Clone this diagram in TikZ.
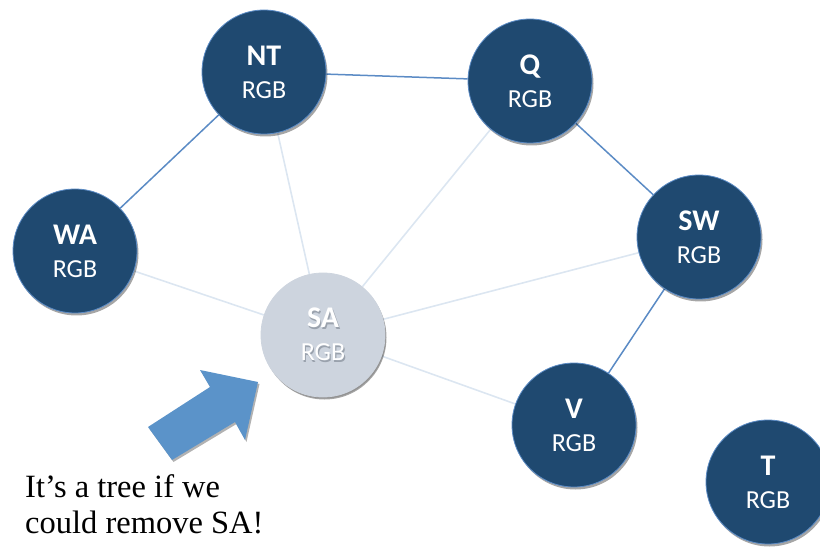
\documentclass[tikz,border=0pt]{standalone}
\usepackage{fontspec}
\setmainfont{Liberation Serif}
\newfontfamily\labelfont{Carlito}
\usetikzlibrary{shadows,backgrounds}

\definecolor{statefill}{HTML}{1F4970}
\definecolor{stateedge}{HTML}{5B8BC5}
\definecolor{faintedge}{HTML}{DCE6F1}
\definecolor{removedfill}{HTML}{CDD4DE}
\definecolor{arrowblue}{HTML}{5B93C9}
\definecolor{textshade}{HTML}{9AA2AD}

% region name in bold over its domain
\newcommand\statetext[1]{{\fontsize{30}{33}\selectfont\bfseries #1}\\RGB}
% white text with a soft grey shadow below it
\newcommand\shadowed[1]{%
  \makebox[0pt]{\hspace{2.4pt}\raisebox{-1.8pt}{\textcolor{textshade}{#1}}}%
  \makebox[0pt]{#1}}
\newcommand\shadedstatetext[1]{%
  {\fontsize{30}{33}\selectfont\bfseries\shadowed{#1}}\\\shadowed{RGB}}

\tikzset{
  labeltext/.style={align=center, font=\labelfont\fontsize{26}{33}\selectfont},
  region/.style={circle, minimum size=124pt, inner sep=0pt,
    fill=statefill, draw=stateedge, line width=0.8pt,
    text=white, labeltext,
    drop shadow={shadow xshift=1.5pt, shadow yshift=-2.5pt,
      opacity=0.35, fill=black}},
  removed/.style={region, fill=removedfill, draw=removedfill,
    drop shadow={shadow xshift=1pt, shadow yshift=-1.5pt,
      opacity=0.12, fill=black}},
  link/.style={stateedge, line width=1.5pt},
  faintlink/.style={faintedge, line width=1.6pt},
  caption/.style={anchor=base west, align=left, inner sep=0pt,
    font=\fontsize{32.5}{36}\selectfont},
}

\begin{document}
\begin{tikzpicture}[x=1pt, y=-1pt]
  \useasboundingbox (0,0) rectangle (820,548);
  \clip (0,0) rectangle (820,548);

  % regions of the map
  \node[region] (NT) at (264,72) {\statetext{NT}};
  \node[region] (Q)  at (530,81) {\statetext{Q}};
  \node[region] (WA) at (75,251) {\statetext{WA}};
  \node[region] (SW) at (699,237) {\statetext{SW}};
  \node[region] (V)  at (574,425) {\statetext{V}};
  \node[region] (T)  at (768,482) {\statetext{T}};
  \node[removed] (SA) at (323,335) {\shadedstatetext{SA}};

  % constraints between neighbouring regions
  \begin{scope}[on background layer]
    \draw[link] (NT) -- (Q);
    \draw[link] (NT) -- (WA);
    \draw[link] (Q) -- (SW);
    \draw[link] (SW) -- (V);
    \draw[faintlink] (SA) -- (WA);
    \draw[faintlink] (SA) -- (NT);
    \draw[faintlink] (SA) -- (Q);
    \draw[faintlink] (SA) -- (SW);
    \draw[faintlink] (SA) -- (V);
  \end{scope}

  % block arrow pointing at SA
  \coordinate (tip) at (258,382);
  \fill[arrowblue, drop shadow={shadow xshift=1.5pt, shadow yshift=-2pt,
      opacity=0.3, fill=black}]
    (tip) -- (200,370) -- (210,387) -- (148,427) -- (172,460)
    -- (235,422) -- (245,440) -- cycle;

  \node[caption] (note) at (25,533)
    {It’s a tree if we\\could remove SA!};
\end{tikzpicture}
\end{document}
